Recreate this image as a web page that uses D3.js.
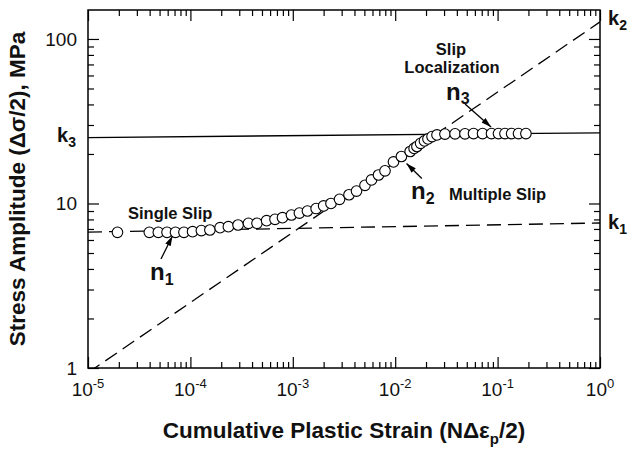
<!DOCTYPE html>
<html>
<head>
<meta charset="utf-8">
<script src="https://cdn.jsdelivr.net/npm/d3@7"></script>
<style>
  html, body { margin: 0; padding: 0; background: #fff; }
  svg { display: block; font-family: "Liberation Sans", Arial, Helvetica, sans-serif; }
</style>
</head>
<body>
<svg id="chart" width="630" height="453"></svg>
<script>
// ---------------- data ----------------
const strain = [1.94e-5, 3.97e-5, 4.86e-5, 5.91e-5, 7.15e-5, 8.65e-5, 1.05e-4, 1.28e-4, 1.55e-4,
  1.95e-4, 2.35e-4, 2.92e-4, 3.69e-4, 4.47e-4, 5.55e-4, 6.70e-4, 7.93e-4, 9.7e-4, 1.16e-3,
  1.39e-3, 1.69e-3, 2.0e-3, 2.36e-3, 2.86e-3, 3.54e-3, 4.19e-3, 5.07e-3, 5.87e-3, 6.87e-3,
  7.95e-3, 9.62e-3, 1.15e-2, 1.40e-2, 1.53e-2, 1.63e-2, 1.77e-2, 1.93e-2, 2.09e-2, 2.29e-2,
  2.56e-2, 3.06e-2, 3.84e-2, 4.80e-2, 5.82e-2, 7.13e-2, 8.72e-2, 0.102, 0.118, 0.137, 0.160, 0.189];
const stress = [6.68, 6.68, 6.68, 6.68, 6.68, 6.68, 6.74, 6.84, 6.90,
  7.13, 7.23, 7.40, 7.58, 7.58, 7.86, 8.01, 8.20, 8.51, 8.75,
  9.00, 9.32, 9.66, 10.0, 10.6, 11.3, 11.9, 12.9, 13.9, 14.9,
  15.8, 17.9, 19.3, 20.7, 21.6, 22.2, 23.2, 24.0, 24.7, 25.5,
  26.1, 26.4, 26.5, 26.5, 26.6, 26.6, 26.6, 26.6, 26.6, 26.6, 26.6, 26.6];

// power-law fits  sigma = k * eps^n
const fitNames = ["k1", "k2", "k3"];
const fitK = [7.61, 127, 26.9];
const fitN = [0.011, 0.4265, 0.0058];
const fitDashed = [true, true, false];

// tick values
const xMajor = [1e-5, 1e-4, 1e-3, 1e-2, 1e-1, 1];
const xMajorExp = ["-5", "-4", "-3", "-2", "-1", "0"];
const yMajor = [1, 10, 100];
const yMajorLabels = ["1", "10", "100"];

// annotation arrows in data coordinates: [tailX, tailY, headX, headY]
const arrowNames = ["n1", "n2", "n3"];
const arrowTail = [[5.16e-5, 4.60], [1.82e-2, 14.2], [4.81e-2, 40.3]];
const arrowHead = [[6.68e-5, 6.35], [1.29e-2, 17.5], [8.63e-2, 29.2]];

// ---------------- layout ----------------
const W = 630, H = 453;
const L = 88, R = 600, T = 10, B = 368;

const svg = d3.select("#chart");
const x = d3.scaleLog().domain([1e-5, 1]).range([L, R]);
const y = d3.scaleLog().domain([1, 150]).range([B, T]);

// minor ticks
const xMinor = [];
for (let e = -5; e < 0; e++) for (let m = 2; m <= 9; m++) xMinor.push(m * Math.pow(10, e));
const yMinor = [];
for (let e = 0; e < 3; e++) for (let m = 2; m <= 9; m++) { const v = m * Math.pow(10, e); if (v <= 150) yMinor.push(v); }

const MAJ = 11, MIN = 6;
function styleAxis(g) {
  g.select(".domain").remove();
  g.selectAll(".tick line").attr("stroke", "#000").attr("stroke-width", 1.2);
  g.selectAll(".tick text").remove();
}
// bottom/top
svg.append("g").attr("transform", `translate(0,${B})`).call(d3.axisBottom(x).tickValues(xMajor).tickSize(-MAJ)).call(styleAxis);
svg.append("g").attr("transform", `translate(0,${B})`).call(d3.axisBottom(x).tickValues(xMinor).tickSize(-MIN)).call(styleAxis);
svg.append("g").attr("transform", `translate(0,${T})`).call(d3.axisTop(x).tickValues(xMajor).tickSize(-MAJ)).call(styleAxis);
svg.append("g").attr("transform", `translate(0,${T})`).call(d3.axisTop(x).tickValues(xMinor).tickSize(-MIN)).call(styleAxis);
// left/right
svg.append("g").attr("transform", `translate(${L},0)`).call(d3.axisLeft(y).tickValues(yMajor).tickSize(-MAJ)).call(styleAxis);
svg.append("g").attr("transform", `translate(${L},0)`).call(d3.axisLeft(y).tickValues(yMinor).tickSize(-MIN)).call(styleAxis);
svg.append("g").attr("transform", `translate(${R},0)`).call(d3.axisRight(y).tickValues(yMajor).tickSize(-MAJ)).call(styleAxis);
svg.append("g").attr("transform", `translate(${R},0)`).call(d3.axisRight(y).tickValues(yMinor).tickSize(-MIN)).call(styleAxis);

// x tick labels
xMajor.forEach((v, i) => {
  const t = svg.append("text").attr("x", x(v)).attr("y", 396)
    .attr("text-anchor", "middle").attr("font-size", 19).attr("fill", "#111");
  t.append("tspan").text("10");
  t.append("tspan").attr("dy", -8).attr("font-size", 13).text(xMajorExp[i]);
});
// y tick labels
yMajor.forEach((v, i) => {
  svg.append("text").attr("x", 77).attr("y", y(v)).attr("dy", "0.36em")
    .attr("text-anchor", "end").attr("font-size", 19).attr("fill", "#111").text(yMajorLabels[i]);
});

// clip
svg.append("clipPath").attr("id", "plotclip").append("rect")
  .attr("x", L).attr("y", T).attr("width", R - L).attr("height", B - T);

const line = d3.line().x(d => x(d[0])).y(d => y(d[1]));
const fitG = svg.append("g").attr("clip-path", "url(#plotclip)");
fitNames.forEach((nm, i) => {
  const k = fitK[i], n = fitN[i];
  const pts = [1e-5, 1].map(e => [e, k * Math.pow(e, n)]);
  fitG.append("path").datum(pts).attr("d", line).attr("fill", "none")
    .attr("stroke", "#000").attr("stroke-width", 1.3)
    .attr("stroke-dasharray", fitDashed[i] ? "14,7" : null);
});

// data points
svg.append("g").selectAll("circle").data(strain.map((s, i) => [s, stress[i]])).join("circle")
  .attr("cx", d => x(d[0])).attr("cy", d => y(d[1])).attr("r", 5.3)
  .attr("fill", "#fff").attr("stroke", "#000").attr("stroke-width", 1.1);

// frame
svg.append("rect").attr("x", L).attr("y", T).attr("width", R - L).attr("height", B - T)
  .attr("fill", "none").attr("stroke", "#000").attr("stroke-width", 1.5);

// arrows
svg.append("defs").append("marker").attr("id", "ah").attr("viewBox", "0 0 10 6")
  .attr("refX", 10).attr("refY", 3).attr("markerWidth", 10).attr("markerHeight", 6)
  .attr("markerUnits", "userSpaceOnUse").attr("orient", "auto")
  .append("path").attr("d", "M0,0 L10,3 L0,6 Z").attr("fill", "#000");
arrowNames.forEach((nm, i) => {
  svg.append("line")
    .attr("x1", x(arrowTail[i][0])).attr("y1", y(arrowTail[i][1]))
    .attr("x2", x(arrowHead[i][0])).attr("y2", y(arrowHead[i][1]))
    .attr("stroke", "#000").attr("stroke-width", 1.3).attr("marker-end", "url(#ah)");
});

// annotation text helper
function subLabel(xp, yp, main, sub, size, subSize, dy) {
  const t = svg.append("text").attr("x", xp).attr("y", yp).attr("font-weight", "bold")
    .attr("font-size", size).attr("fill", "#111");
  t.append("tspan").text(main);
  t.append("tspan").attr("dy", dy).attr("font-size", subSize).text(sub);
  return t;
}
subLabel(150, 280, "n", "1", 24, 16, 5);
subLabel(411, 199, "n", "2", 24, 16, 5);
subLabel(446, 100, "n", "3", 24, 16, 4);
subLabel(608, 25, "k", "2", 20, 14, 5);
subLabel(608, 229, "k", "1", 20, 14, 5);
subLabel(57, 142, "k", "3", 20, 14, 5);

function plain(xp, yp, txt, anchor) {
  svg.append("text").attr("x", xp).attr("y", yp).attr("text-anchor", anchor || "start")
    .attr("font-weight", "bold").attr("font-size", 16.5).attr("fill", "#111").text(txt);
}
plain(128, 219, "Single Slip");
plain(449, 200, "Multiple Slip");
plain(451, 55, "Slip", "middle");
plain(452, 73, "Localization", "middle");

// axis titles
const xt = svg.append("text").attr("x", (L + R) / 2).attr("y", 438).attr("text-anchor", "middle")
  .attr("font-weight", "bold").attr("font-size", 22.5).attr("fill", "#111");
xt.append("tspan").text("Cumulative Plastic Strain (N\u0394\u03b5");
xt.append("tspan").attr("dy", 6).attr("font-size", 15).text("p");
xt.append("tspan").attr("dy", -6).text("/2)");

svg.append("text").attr("transform", `translate(25,${(T + B) / 2}) rotate(-90)`)
  .attr("text-anchor", "middle").attr("font-weight", "bold").attr("font-size", 22.5).attr("fill", "#111")
  .text("Stress Amplitude (\u0394\u03c3/2), MPa");
</script>
</body>
</html>
